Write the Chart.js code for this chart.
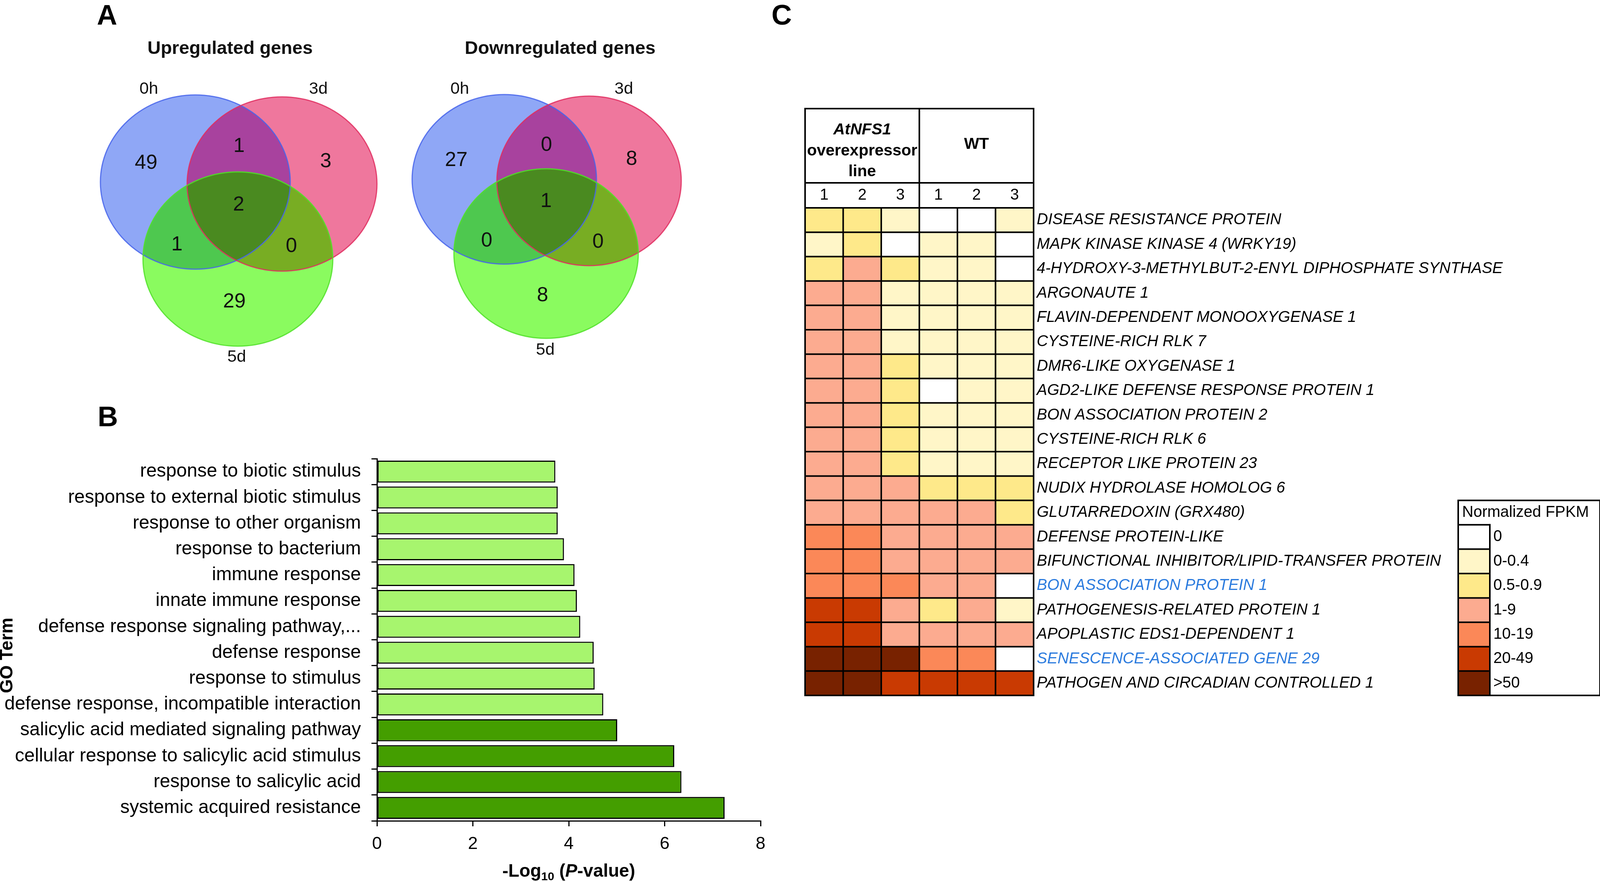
<!DOCTYPE html>
<html><head><meta charset="utf-8">
<script src="https://cdn.jsdelivr.net/npm/chart.js@4.4.1/dist/chart.umd.min.js"></script>
<style>
html,body{margin:0;padding:0;background:#fff;}
body{width:4100px;height:2255px;position:relative;overflow:hidden;}
canvas{position:absolute;}
</style></head><body>
<canvas id="venn" width="1900" height="1000" style="left:0;top:0;width:1900px;height:1000px"></canvas>
<canvas id="go" width="2000" height="1255" style="left:0;top:1000px;width:2000px;height:1255px"></canvas>
<canvas id="heat" width="2150" height="1850" style="left:1950px;top:0;width:2150px;height:1850px"></canvas>
<script>
// ---------------- DATA ----------------
// Venn (A): region order = [0h only, 3d only, 5d only, 0h&3d, 0h&5d, 3d&5d, all three]
const vennSets = ['0h', '3d', '5d'];
const upCounts = [49, 3, 29, 1, 1, 0, 2];
const downCounts = [27, 8, 8, 0, 0, 0, 1];

// GO terms (B)
const goTerms = [
  'response to biotic stimulus',
  'response to external biotic stimulus',
  'response to other organism',
  'response to bacterium',
  'immune response',
  'innate immune response',
  'defense response signaling pathway,...',
  'defense response',
  'response to stimulus',
  'defense response, incompatible interaction',
  'salicylic acid mediated signaling pathway',
  'cellular response to salicylic acid stimulus',
  'response to salicylic acid',
  'systemic acquired resistance'
];
const goValues = [3.72, 3.77, 3.77, 3.90, 4.12, 4.17, 4.24, 4.52, 4.54, 4.72, 5.01, 6.20, 6.35, 7.25];
const goSalicylic = [false, false, false, false, false, false, false, false, false, false, true, true, true, true];
const goTicks = [0, 2, 4, 6, 8];

// Heatmap (C)
const genes = [
  'DISEASE RESISTANCE PROTEIN',
  'MAPK KINASE KINASE 4 (WRKY19)',
  '4-HYDROXY-3-METHYLBUT-2-ENYL DIPHOSPHATE SYNTHASE',
  'ARGONAUTE 1',
  'FLAVIN-DEPENDENT MONOOXYGENASE 1',
  'CYSTEINE-RICH RLK 7',
  'DMR6-LIKE OXYGENASE 1',
  'AGD2-LIKE DEFENSE RESPONSE PROTEIN 1',
  'BON ASSOCIATION PROTEIN 2',
  'CYSTEINE-RICH RLK 6',
  'RECEPTOR LIKE PROTEIN 23',
  'NUDIX HYDROLASE HOMOLOG 6',
  'GLUTARREDOXIN (GRX480)',
  'DEFENSE PROTEIN-LIKE',
  'BIFUNCTIONAL INHIBITOR/LIPID-TRANSFER PROTEIN',
  'BON ASSOCIATION PROTEIN 1',
  'PATHOGENESIS-RELATED PROTEIN 1',
  'APOPLASTIC EDS1-DEPENDENT 1',
  'SENESCENCE-ASSOCIATED GENE 29',
  'PATHOGEN AND CIRCADIAN CONTROLLED 1'
];
const highlightedGenes = ['BON ASSOCIATION PROTEIN 1', 'SENESCENCE-ASSOCIATED GENE 29'];
const replicates = ['1', '2', '3', '1', '2', '3'];
const groups = ['AtNFS1 overexpressor line', 'WT'];
// level index into legend classes, columns: OE1 OE2 OE3 WT1 WT2 WT3
const heatLevels = [
  [2, 2, 1, 0, 0, 1],
  [1, 2, 0, 1, 1, 0],
  [2, 3, 2, 1, 1, 0],
  [3, 3, 1, 1, 1, 1],
  [3, 3, 1, 1, 1, 1],
  [3, 3, 1, 1, 1, 1],
  [3, 3, 2, 1, 1, 1],
  [3, 3, 2, 0, 1, 1],
  [3, 3, 2, 1, 1, 1],
  [3, 3, 2, 1, 1, 1],
  [3, 3, 2, 1, 1, 1],
  [3, 3, 3, 2, 2, 2],
  [3, 3, 3, 3, 3, 2],
  [4, 4, 3, 3, 3, 3],
  [4, 4, 3, 3, 3, 3],
  [4, 4, 4, 3, 3, 0],
  [5, 5, 3, 2, 3, 1],
  [5, 5, 3, 3, 3, 3],
  [6, 6, 6, 4, 4, 0],
  [6, 6, 5, 5, 5, 5]
];
const legendTitle = 'Normalized FPKM';
const legendLabels = ['0', '0-0.4', '0.5-0.9', '1-9', '10-19', '20-49', '>50'];

// ---------------- STYLE ----------------
const FONT = "'Liberation Sans', Arial, Helvetica, sans-serif";
Chart.defaults.font.family = FONT;
Chart.defaults.color = '#000';
const levelColors = ['#ffffff', '#fff6c8', '#fee98a', '#fcab90', '#fb8858', '#c93a02', '#782200'];
const lightGreen = '#a7f56e';
const darkGreen = '#449e00';

// ---------------- A: VENN ----------------
const vennColors = {
  fills: ['#8fa7f6', '#ef779d', '#8afb5f'],
  ab: '#a8429e', ac: '#4ec84f', bc: '#78ad23', abc: '#4a8a20',
  strokes: ['rgba(70,100,235,0.85)', 'rgba(225,45,95,0.85)', 'rgba(80,225,40,0.85)']
};
const vennLayout = [
  { title: 'Upregulated genes', tx: 589, ty: 138, counts: upCounts,
    ell: [[500, 466], [722, 471], [609, 663]], rx: 243, ry: 223,
    lab: [[381, 228], [815, 228], [606, 914]],
    num: [[374, 418], [834, 414], [600, 773], [612, 375], [453, 627], [746, 631], [611, 525]] },
  { title: 'Downregulated genes', tx: 1434, ty: 138, counts: downCounts,
    ell: [[1291, 459], [1508, 463], [1398, 649]], rx: 236, ry: 217,
    lab: [[1177, 228], [1597, 228], [1396, 896]],
    num: [[1168, 411], [1617, 408], [1389, 757], [1399, 372], [1246, 617], [1531, 620], [1398, 516]] }
];

const vennPlugin = {
  id: 'vennDraw',
  afterDraw(chart) {
    const ctx = chart.ctx, xs = chart.scales.x, ys = chart.scales.y;
    const px = v => xs.getPixelForValue(v), py = v => ys.getPixelForValue(v);
    ctx.save();
    ctx.fillStyle = '#000';
    ctx.font = `bold 72px ${FONT}`;
    ctx.textAlign = 'left'; ctx.textBaseline = 'alphabetic';
    ctx.fillText('A', px(248), py(63));
    vennLayout.forEach(v => {
      const path = i => {
        const [cx, cy] = v.ell[i];
        ctx.beginPath();
        ctx.ellipse(px(cx), py(cy), px(cx + v.rx) - px(cx), Math.abs(py(cy + v.ry) - py(cy)), 0, 0, Math.PI * 2);
      };
      const fillE = (i, col) => { path(i); ctx.fillStyle = col; ctx.fill(); };
      const clipE = i => { path(i); ctx.clip(); };
      for (let i = 0; i < 3; i++) fillE(i, vennColors.fills[i]);
      ctx.save(); clipE(0); fillE(1, vennColors.ab); ctx.restore();
      ctx.save(); clipE(0); fillE(2, vennColors.ac); ctx.restore();
      ctx.save(); clipE(1); fillE(2, vennColors.bc); ctx.restore();
      ctx.save(); clipE(0); clipE(1); fillE(2, vennColors.abc); ctx.restore();
      for (let i = 0; i < 3; i++) { path(i); ctx.lineWidth = 3; ctx.strokeStyle = vennColors.strokes[i]; ctx.stroke(); }
      ctx.fillStyle = '#111';
      ctx.textAlign = 'center';
      ctx.font = `bold 47px ${FONT}`;
      ctx.textBaseline = 'alphabetic';
      ctx.fillText(v.title, px(v.tx), py(v.ty));
      ctx.textBaseline = 'middle';
      ctx.font = `43px ${FONT}`;
      vennSets.forEach((s, i) => ctx.fillText(s, px(v.lab[i][0]), py(v.lab[i][1])));
      ctx.font = `52px ${FONT}`;
      v.counts.forEach((c, i) => ctx.fillText(String(c), px(v.num[i][0]), py(v.num[i][1])));
    });
    ctx.restore();
  }
};

new Chart(document.getElementById('venn'), {
  type: 'scatter',
  data: { datasets: [] },
  options: {
    responsive: false, animation: false, devicePixelRatio: 1,
    layout: { padding: 0 },
    plugins: { legend: { display: false }, tooltip: { enabled: false } },
    scales: {
      x: { type: 'linear', min: 0, max: 1900, display: false },
      y: { type: 'linear', min: 0, max: 1000, reverse: true, display: false }
    }
  },
  plugins: [vennPlugin]
});

// ---------------- B: GO BAR CHART ----------------
const goPlugin = {
  id: 'goDecor',
  afterDraw(chart) {
    const ctx = chart.ctx, ca = chart.chartArea;
    ctx.save();
    ctx.fillStyle = '#000';
    ctx.font = `bold 72px ${FONT}`;
    ctx.textAlign = 'left'; ctx.textBaseline = 'alphabetic';
    ctx.fillText('B', 250, 91);
    ctx.save();
    ctx.translate(19, (ca.top + ca.bottom) / 2 + 40);
    ctx.rotate(-Math.PI / 2);
    ctx.font = `bold 46px ${FONT}`;
    ctx.textAlign = 'center'; ctx.textBaseline = 'middle';
    ctx.fillText('GO Term', 0, 0);
    ctx.restore();
    const parts = [
      { t: '-Log', f: `bold 46px ${FONT}`, dy: 0 },
      { t: '10', f: `bold 30px ${FONT}`, dy: 9 },
      { t: ' (', f: `bold 46px ${FONT}`, dy: 0 },
      { t: 'P', f: `italic bold 46px ${FONT}`, dy: 0 },
      { t: '-value)', f: `bold 46px ${FONT}`, dy: 0 }
    ];
    let total = 0;
    parts.forEach(p => { ctx.font = p.f; p.w = ctx.measureText(p.t).width; total += p.w; });
    let x = (ca.left + ca.right) / 2 - total / 2;
    const base = ca.bottom + 143;
    ctx.textAlign = 'left'; ctx.textBaseline = 'alphabetic';
    parts.forEach(p => { ctx.font = p.f; ctx.fillText(p.t, x, base + p.dy); x += p.w; });
    ctx.restore();
  }
};

new Chart(document.getElementById('go'), {
  type: 'bar',
  data: {
    labels: goTerms,
    datasets: [{
      data: goValues,
      backgroundColor: goSalicylic.map(s => s ? darkGreen : lightGreen),
      borderColor: '#000', borderWidth: 3, borderSkipped: false,
      barPercentage: 0.85, categoryPercentage: 1
    }]
  },
  options: {
    indexAxis: 'y',
    responsive: false, animation: false, devicePixelRatio: 1,
    layout: { padding: { top: 174, right: 53, left: 0, bottom: 0 } },
    plugins: { legend: { display: false }, tooltip: { enabled: false } },
    scales: {
      x: {
        min: goTicks[0], max: goTicks[goTicks.length - 1],
        afterBuildTicks(s) { s.ticks = goTicks.map(v => ({ value: v })); },
        ticks: { font: { size: 45 }, color: '#000', padding: 19 },
        grid: { drawOnChartArea: false, drawTicks: true, tickLength: 14, color: '#000', lineWidth: 3 },
        border: { display: true, color: '#000', width: 3 },
        afterFit(s) { s.height = 154; }
      },
      y: {
        ticks: { font: { size: 48 }, color: '#000', padding: 27, autoSkip: false },
        grid: { drawOnChartArea: false, drawTicks: true, tickLength: 14, color: '#000', lineWidth: 3, offset: true },
        border: { display: true, color: '#000', width: 3 },
        afterFit(s) { s.width = 965; }
      }
    }
  },
  plugins: [goPlugin]
});

// ---------------- C: HEATMAP ----------------
const heatPlugin = {
  id: 'heatDecor',
  afterDraw(chart) {
    const ctx = chart.ctx, xs = chart.scales.x, ys = chart.scales.y;
    const nCols = replicates.length, nRows = genes.length;
    const X = i => xs.getPixelForValue(i);
    const Yb = r => ys.getPixelForValue(r - 0.5);
    ctx.save();
    ctx.strokeStyle = '#000'; ctx.lineWidth = 4; ctx.lineCap = 'square';
    const line = (x1, y1, x2, y2) => { ctx.beginPath(); ctx.moveTo(x1, y1); ctx.lineTo(x2, y2); ctx.stroke(); };
    for (let i = 0; i <= nCols; i++) line(X(i), Yb(0), X(i), Yb(nRows));
    for (let r = 0; r <= nRows; r++) line(X(0), Yb(r), X(nCols), Yb(r));
    const hTop = 278, hMid = 468, top = Yb(0);
    line(X(0), hTop, X(nCols), hTop);
    line(X(0), hMid, X(nCols), hMid);
    line(X(0), hTop, X(0), top);
    line(X(3), hTop, X(3), top);
    line(X(nCols), hTop, X(nCols), top);
    ctx.fillStyle = '#000';
    ctx.textAlign = 'center'; ctx.textBaseline = 'middle';
    ctx.font = `40px ${FONT}`;
    replicates.forEach((r, i) => ctx.fillText(r, (X(i) + X(i + 1)) / 2, 500));
    const g1 = (X(0) + X(3)) / 2, g2 = (X(3) + X(nCols)) / 2;
    const g1Words = groups[0].split(' ');
    ctx.font = `italic bold 41px ${FONT}`;
    ctx.fillText(g1Words[0], g1, 333);
    ctx.font = `bold 41px ${FONT}`;
    ctx.fillText(g1Words[1], g1, 387);
    ctx.fillText(g1Words[2], g1, 440);
    ctx.fillText(groups[1], g2, 370);
    ctx.textAlign = 'left'; ctx.textBaseline = 'alphabetic';
    ctx.font = `bold 72px ${FONT}`;
    ctx.fillText('C', 25, 63);
    const L = 1783, S = 1864, R = 2146;
    const first = nRows - legendLabels.length;
    const lTop = Yb(first - 1), lBot = Yb(nRows);
    legendLabels.forEach((lab, k) => {
      ctx.fillStyle = levelColors[k];
      ctx.fillRect(L, Yb(first + k), S - L, Yb(first + k + 1) - Yb(first + k));
    });
    ctx.strokeRect(L, lTop, R - L, lBot - lTop);
    line(S, Yb(first), S, lBot);
    for (let k = 0; k <= legendLabels.length; k++) line(L, Yb(first + k), S, Yb(first + k));
    ctx.fillStyle = '#000';
    ctx.font = `40px ${FONT}`;
    ctx.textBaseline = 'middle';
    ctx.fillText(legendTitle, L + 10, (Yb(first - 1) + Yb(first)) / 2);
    legendLabels.forEach((lab, k) => ctx.fillText(lab, S + 9, (Yb(first + k) + Yb(first + k + 1)) / 2));
    ctx.restore();
  }
};

new Chart(document.getElementById('heat'), {
  type: 'bar',
  data: {
    labels: genes,
    datasets: replicates.map((rep, c) => ({
      label: (c < 3 ? groups[0] : groups[1]) + ' ' + rep,
      data: genes.map(() => 1),
      backgroundColor: heatLevels.map(row => levelColors[row[c]]),
      borderWidth: 0, barPercentage: 1, categoryPercentage: 1
    }))
  },
  options: {
    indexAxis: 'y',
    responsive: false, animation: false, devicePixelRatio: 1,
    layout: { padding: { top: 532, bottom: 70, left: 111, right: 0 } },
    plugins: { legend: { display: false }, tooltip: { enabled: false } },
    scales: {
      x: { stacked: true, min: 0, max: replicates.length, display: false },
      y: {
        stacked: true, position: 'right',
        grid: { display: false, drawTicks: false },
        border: { display: false },
        ticks: {
          autoSkip: false, padding: 8,
          font: { size: 40, style: 'italic' },
          color: c => highlightedGenes.includes(genes[c.index]) ? '#2b7bde' : '#000'
        },
        afterFit(s) { s.width = 1454; }
      }
    }
  },
  plugins: [heatPlugin]
});
</script>
</body></html>
